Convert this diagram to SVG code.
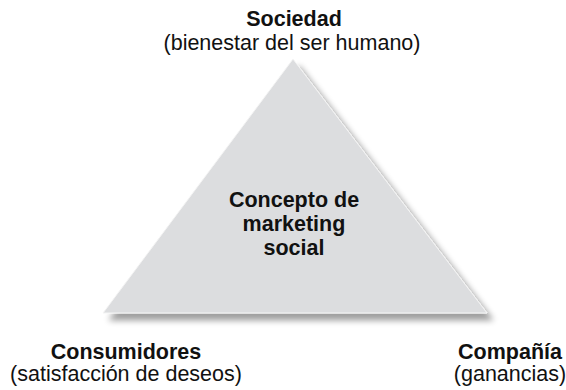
<svg xmlns="http://www.w3.org/2000/svg" width="566" height="390" viewBox="0 0 566 390">
<style>
text{font-family:"Liberation Sans",Arial,Helvetica,sans-serif;font-size:21.5px;fill:#111;text-anchor:middle}
.b{font-weight:bold}
</style>
<defs>
<filter id="sh" x="-10%" y="-10%" width="120%" height="130%">
<feGaussianBlur in="SourceAlpha" stdDeviation="3"/>
<feOffset dx="6" dy="7" result="o"/>
<feComponentTransfer><feFuncA type="linear" slope="0.38"/></feComponentTransfer>
<feMerge><feMergeNode/><feMergeNode in="SourceGraphic"/></feMerge>
</filter>
</defs>
<rect width="566" height="390" fill="#fff"/>
<g id="triangle">
<polygon points="293,59 487,313 103,313" fill="#dcdddf" stroke="#f4f4f4" stroke-width="1" filter="url(#sh)"/>
<text class="b" x="294" y="207">Concepto de</text>
<text class="b" x="294" y="231">marketing</text>
<text class="b" x="294" y="255">social</text>
</g>
<g id="sociedad">
<text class="b" x="294" y="26">Sociedad</text>
<text x="292" y="50">(bienestar del ser humano)</text>
</g>
<g id="consumidores">
<text class="b" x="126" y="359">Consumidores</text>
<text x="126" y="381">(satisfacción de deseos)</text>
</g>
<g id="compania">
<text class="b" x="510" y="359">Compañía</text>
<text x="510" y="381">(ganancias)</text>
</g>
<g id="connectors"/>
</svg>
